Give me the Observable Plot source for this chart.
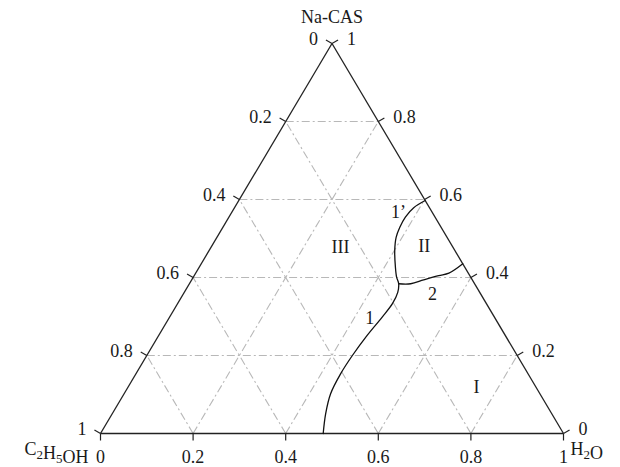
<!DOCTYPE html>
<html><head><meta charset="utf-8">
<script src="https://cdn.jsdelivr.net/npm/d3@7"></script>
<script src="https://cdn.jsdelivr.net/npm/@observablehq/plot@0.6"></script>
<style>body{margin:0;background:#fff} svg{display:block}</style>
</head><body><div id="chart"></div>
<script>
// ---- data (ternary fractions) ----
const tickValues = [0, 0.2, 0.4, 0.6, 0.8, 1];
const tickLabels = ["0", "0.2", "0.4", "0.6", "0.8", "1"];
const gridValues = [0.2, 0.4, 0.6, 0.8];
const vertexNames = ["Na-CAS", "C₂H₅OH", "H₂O"];

// boundary curve 1 + 1' (bottom -> junction -> right side), [H2O, Na-CAS]
const curve1H2O   = [0.481, 0.461, 0.446, 0.442, 0.444, 0.450, 0.459, 0.464, 0.461, 0.452, 0.439, 0.424, 0.401, 0.387, 0.382, 0.381, 0.387, 0.4026];
const curve1NaCAS = [0.000, 0.0505, 0.102, 0.153, 0.200, 0.251, 0.298, 0.333, 0.362, 0.384, 0.401, 0.426, 0.469, 0.503, 0.529, 0.555, 0.579, 0.5974];
// boundary curve 2 (junction -> right side)
const curve2H2O   = [0.452, 0.478, 0.501, 0.528, 0.547, 0.565];
const curve2NaCAS = [0.384, 0.384, 0.394, 0.405, 0.411, 0.435];

// region labels
const regionNames = ["III", "II", "1’", "2", "1", "I"];
const regionH2O   = [0.280, 0.460, 0.360, 0.539, 0.434, 0.753];
const regionNaCAS = [0.477, 0.479, 0.567, 0.356, 0.295, 0.118];

// ---- layout ----
const W = 620, H = 467;
const xRange = [100, 563], yRange = [433, 43];
const kx = xRange[1] - xRange[0], ky = yRange[0] - yRange[1];
const TL = 7; // tick length px

// ternary (w = H2O, a = Na-CAS) -> cartesian unit coords
const cx = (w, a) => w + a / 2;
const cy = (w, a) => a;

const curve1 = curve1H2O.map((w, i) => ({x: cx(w, curve1NaCAS[i]), y: cy(w, curve1NaCAS[i])}));
const curve2 = curve2H2O.map((w, i) => ({x: cx(w, curve2NaCAS[i]), y: cy(w, curve2NaCAS[i])}));
const regions = regionNames.map((t, i) => ({t, x: cx(regionH2O[i], regionNaCAS[i]), y: cy(regionH2O[i], regionNaCAS[i])}));

const grid = [];
for (const t of gridValues) {
  grid.push({x1: cx(0, t), y1: cy(0, t), x2: cx(1 - t, t), y2: cy(1 - t, t)});
  grid.push({x1: cx(t, 0), y1: cy(t, 0), x2: cx(t, 1 - t), y2: cy(t, 1 - t)});
  grid.push({x1: cx(1 - t, 0), y1: cy(1 - t, 0), x2: cx(0, 1 - t), y2: cy(0, 1 - t)});
}

const frame = [
  {x1: cx(0, 0), y1: cy(0, 0), x2: cx(1, 0), y2: cy(1, 0)},
  {x1: cx(1, 0), y1: cy(1, 0), x2: cx(0, 1), y2: cy(0, 1)},
  {x1: cx(0, 1), y1: cy(0, 1), x2: cx(0, 0), y2: cy(0, 0)}
];

const bottomTicks = [], leftTicks = [], rightTicks = [];
tickValues.forEach((t, i) => {
  const bx = cx(t, 0), by = cy(t, 0);
  bottomTicks.push({x1: bx, y1: by, x2: bx, y2: by - TL / ky, label: tickLabels[i]});
  const lx = cx(0, 1 - t), ly = cy(0, 1 - t);
  leftTicks.push({x1: lx, y1: ly, x2: lx - 0.866 * TL / kx, y2: ly + 0.5 * TL / ky, label: tickLabels[i]});
  const rx = cx(1 - t, t), ry = cy(1 - t, t);
  rightTicks.push({x1: rx, y1: ry, x2: rx + 0.866 * TL / kx, y2: ry + 0.5 * TL / ky, label: tickLabels[i]});
});

const vertices = [
  {t: vertexNames[0], x: cx(0, 1), y: cy(0, 1), anchor: "middle", dx: 0, dy: -26},
  {t: vertexNames[1], x: cx(0, 0), y: cy(0, 0), anchor: "end", dx: -12, dy: 16},
  {t: vertexNames[2], x: cx(1, 0), y: cy(1, 0), anchor: "start", dx: 7, dy: 16}
];

const font = {fontSize: 18, fill: "#1a1a1a"};

const chart = Plot.plot({
  width: W, height: H, margin: 0,
  x: {domain: [0, 1], range: xRange, axis: null},
  y: {domain: [0, 1], range: yRange, axis: null},
  style: {fontFamily: "'Liberation Serif', 'Times New Roman', serif", background: "#fff"},
  marks: [
    Plot.link(grid, {x1: "x1", y1: "y1", x2: "x2", y2: "y2", stroke: "#b8b8b8", strokeWidth: 1.1, strokeDasharray: "8,3,2,3"}),
    Plot.link(frame, {x1: "x1", y1: "y1", x2: "x2", y2: "y2", stroke: "#222", strokeWidth: 1.3}),
    Plot.link(bottomTicks, {x1: "x1", y1: "y1", x2: "x2", y2: "y2", stroke: "#222", strokeWidth: 1.2}),
    Plot.link(leftTicks, {x1: "x1", y1: "y1", x2: "x2", y2: "y2", stroke: "#222", strokeWidth: 1.2}),
    Plot.link(rightTicks, {x1: "x1", y1: "y1", x2: "x2", y2: "y2", stroke: "#222", strokeWidth: 1.2}),
    Plot.line(curve1, {x: "x", y: "y", stroke: "#111", strokeWidth: 1.3, curve: "catmull-rom"}),
    Plot.line(curve2, {x: "x", y: "y", stroke: "#111", strokeWidth: 1.3, curve: "catmull-rom"}),
    Plot.text(bottomTicks, {x: "x1", y: "y1", text: "label", dy: 24, ...font}),
    Plot.text(leftTicks, {x: "x1", y: "y1", text: "label", textAnchor: "end", dx: -14, dy: -4, ...font}),
    Plot.text(rightTicks, {x: "x1", y: "y1", text: "label", textAnchor: "start", dx: 15, dy: -4, ...font}),
    Plot.text(regions, {x: "x", y: "y", text: "t", ...font}),
    ...vertices.map(v => Plot.text([v], {x: "x", y: "y", text: "t", textAnchor: v.anchor, dx: v.dx, dy: v.dy, ...font}))
  ]
});
document.getElementById("chart").append(chart);

// render Unicode subscript digits as real lowered, smaller tspans
const subMap = {"₀":"0","₁":"1","₂":"2","₃":"3","₄":"4","₅":"5","₆":"6","₇":"7","₈":"8","₉":"9"};
chart.querySelectorAll("text").forEach(el => {
  const nodes = el.querySelectorAll("tspan").length ? el.querySelectorAll("tspan") : [el];
  nodes.forEach(node => {
    const s = node.textContent;
    if (!/[₀-₉]/.test(s)) return;
    node.textContent = "";
    const ns = "http://www.w3.org/2000/svg";
    let buf = "";
    const flush = () => { if (buf) { node.appendChild(document.createTextNode(buf)); buf = ""; } };
    for (const ch of s) {
      if (subMap[ch]) {
        flush();
        const ts = document.createElementNS(ns, "tspan");
        ts.setAttribute("font-size", "13");
        ts.setAttribute("dy", "4");
        ts.textContent = subMap[ch];
        node.appendChild(ts);
        const back = document.createElementNS(ns, "tspan");
        back.setAttribute("dy", "-4");
        back.textContent = "";
        node.appendChild(back);
      } else buf += ch;
    }
    flush();
  });
});
</script>
</body></html>
